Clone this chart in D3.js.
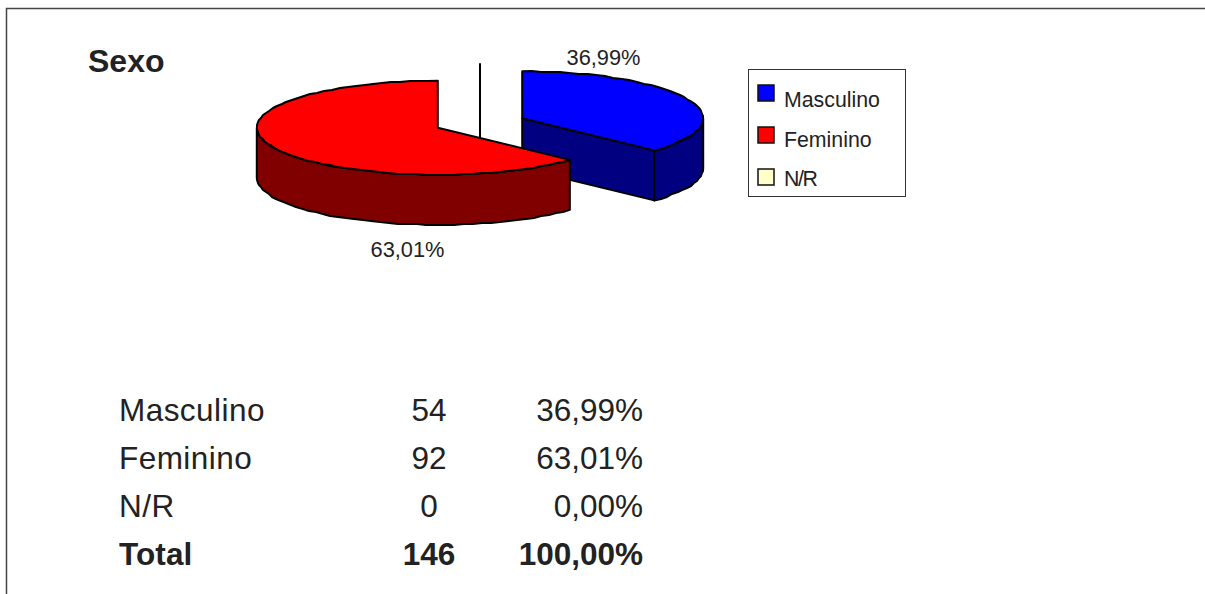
<!DOCTYPE html>
<html>
<head>
<meta charset="utf-8">
<script src="https://cdn.jsdelivr.net/npm/d3@7/dist/d3.min.js"></script>
<style>
  html, body { margin: 0; padding: 0; background: #fff; }
  svg { display: block; }
  text { font-family: "Liberation Sans", Arial, sans-serif; fill: #222; }
</style>
</head>
<body>
<svg id="chart" width="1205" height="594"></svg>
<script>
// Survey answers by sex
const title = "Sexo";
const categories = ["Masculino", "Feminino", "N/R"];
const counts = [54, 92, 0];
const percentLabels = ["36,99%", "63,01%", "0,00%"];
const totalLabel = "Total";
const totalCount = 146;
const totalPercent = "100,00%";
const topColors = ["#0000ff", "#ff0000", "#ffffcc"];
const sideColors = ["#000080", "#800000", "#808066"];

const svg = d3.select("#chart");

// Frame around the sheet: open at the right and bottom
svg.append("path")
  .attr("d", "M6.5,594V8.5H1205")
  .attr("fill", "none").attr("stroke", "#444").attr("stroke-width", 1.5);

// 3D pie projection
const pieCenter = { x: 480, y: 123 };
const radiusX = 181, radiusY = 47, depth = 50, explode = 46;
const tilt = radiusY / radiusX;
const arcs = d3.pie().sort(null).value(d => d)(counts);

const project = (angle, r, o) => [
  o.x + r * Math.sin(angle),
  o.y - r * tilt * Math.cos(angle)
];
const originOf = a => {
  const mid = (a.startAngle + a.endAngle) / 2;
  return { x: pieCenter.x + explode * Math.sin(mid),
           y: pieCenter.y - explode * tilt * Math.cos(mid) };
};

// Rim is built from short segments snapped to the pixel grid
const rim = (a0, a1, o) => {
  const step = 3 * Math.PI / 180;
  const n = Math.max(1, Math.round(Math.abs(a1 - a0) / step));
  return d3.range(n + 1).map(i => {
    const p = project(a0 + (a1 - a0) * i / n, radiusX, o);
    return (i === 0 || i === n) ? p : [Math.round(p[0]), Math.round(p[1])];
  });
};
const poly = d3.line().curve(d3.curveLinear);
const down = p => [p[0], p[1] + depth];

const drawSlice = i => {
  const a = arcs[i], o = originOf(a), c = [o.x, o.y];
  const g = svg.append("g").attr("stroke", "#000").attr("stroke-width", 2).attr("stroke-linejoin", "round");
  const endP = project(a.endAngle, radiusX, o);
  const startP = project(a.startAngle, radiusX, o);

  // Cut face at the end angle when it looks toward the viewer
  if (Math.sin(a.endAngle) > 0 && a.endAngle > a.startAngle) {
    g.append("path").attr("d", poly([c, endP, down(endP), down(c)]) + "Z").attr("fill", sideColors[i]);
  }
  // Outer wall along the front half of the rim
  const w0 = Math.max(a.startAngle, Math.PI / 2), w1 = Math.min(a.endAngle, 3 * Math.PI / 2);
  if (w1 > w0) {
    const front = rim(w0, w1, o);
    g.append("path").attr("d", poly(front.concat(front.slice().reverse().map(down))) + "Z").attr("fill", sideColors[i]);
  }
  // Top face
  g.append("path").attr("d", poly([c].concat(rim(a.startAngle, a.endAngle, o))) + "Z").attr("fill", topColors[i]);
  // A zero-sized slice still shows its radius and the wall below it
  if (a.endAngle === a.startAngle) {
    g.append("path").attr("d", poly([startP, c, down(c)])).attr("fill", "none");
  }
};
// Painter's order: empty slice, then the back-right slice, then the front slice
[2, 0, 1].forEach(drawSlice);

// Slice value labels
const sliceLabels = [[603.5, 65], [407.5, 257]];
[0, 1].forEach(i => svg.append("text")
  .attr("x", sliceLabels[i][0]).attr("y", sliceLabels[i][1])
  .attr("text-anchor", "middle").attr("font-size", 21.8)
  .text(percentLabels[i]));

// Title
svg.append("text").attr("x", 88).attr("y", 71.5)
  .attr("font-size", 32).attr("font-weight", "bold").text(title);

// Legend
svg.append("rect").attr("x", 748.5).attr("y", 69.5).attr("width", 157).attr("height", 127)
  .attr("fill", "#fff").attr("stroke", "#333").attr("stroke-width", 1);
const legendY = d3.scalePoint().domain(categories).range([93, 177]);
const legendTextY = d3.scalePoint().domain(categories).range([107, 186]);
categories.forEach((c, i) => {
  svg.append("rect").attr("x", 758).attr("y", legendY(c) - 8).attr("width", 16).attr("height", 16)
    .attr("fill", topColors[i]).attr("stroke", "#111").attr("stroke-width", 1.5);
  svg.append("text").attr("x", 784).attr("y", legendTextY(c))
    .attr("font-size", 21.3).attr("letter-spacing", c === "N/R" ? -1.4 : 0).text(c);
});

// Summary table
const rows = categories.map((c, i) => [c, counts[i], percentLabels[i], "normal"])
  .concat([[totalLabel, totalCount, totalPercent, "bold"]]);
const rowY = d3.scalePoint().domain(d3.range(rows.length)).range([421, 565]);
rows.forEach((r, i) => {
  const g = svg.append("g").attr("font-size", 31.5).attr("font-weight", r[3]);
  g.append("text").attr("x", 119).attr("y", rowY(i))
    .attr("letter-spacing", r[3] === "normal" ? 0.45 : 0.1).text(r[0]);
  g.append("text").attr("x", 429).attr("y", rowY(i)).attr("text-anchor", "middle").text(r[1]);
  g.append("text").attr("x", 643).attr("y", rowY(i)).attr("text-anchor", "end").text(r[2]);
});
</script>
</body>
</html>
